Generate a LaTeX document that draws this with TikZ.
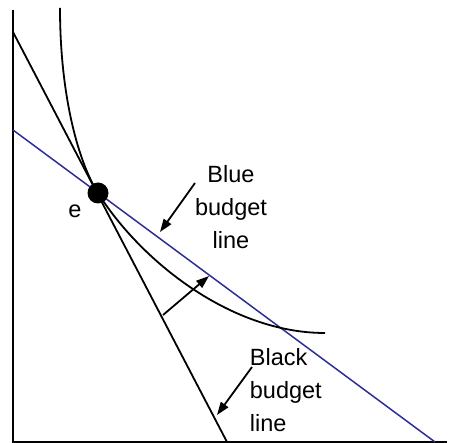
\documentclass[tikz,border=0pt]{standalone}
\usepackage{fontspec}
\setmainfont{Liberation Sans}
\usetikzlibrary{arrows.meta,positioning}
\definecolor{budgetblue}{RGB}{45,45,150}

\begin{document}
\begin{tikzpicture}[x=1pt, y=-1pt, line width=1.8pt, >={Triangle[length=13pt,width=9pt]}, every node/.style={font=\fontsize{23.5}{33}\selectfont, inner sep=0pt}]
\useasboundingbox (0,0) rectangle (468,443);
\coordinate (o) at (13,442);
\coordinate (ytop) at (13,10);
\coordinate (xend) at (447,442);
\coordinate (k1) at (13,32);
\coordinate (k2) at (227,442);
\coordinate (b1) at (13,130);
\coordinate (b2) at (435,442);
\coordinate (ic1) at (60,8);
\coordinate (ic2) at (325,333);
\coordinate (bluetail) at (195,183);
\coordinate (bluetip) at (160,232);
\coordinate (blacktail) at (252,367);
\coordinate (blacktip) at (217,415);
\coordinate (shiftfrom) at (163,315);
\coordinate (shiftto) at (209,276);
\draw (ytop) -- (o) -- (xend);
\draw (k1) -- (k2);
\draw[budgetblue, line width=1.5pt] (b1) -- (b2);
\node (e) [circle, fill, minimum size=21pt] at (98,193) {};
\draw (ic1) .. controls (60,100) and (80,165) .. (e.center) .. controls (140,260) and (230,333) .. (ic2);
\node (elabel) at (75,211) {e};
\node (blue) [align=center] at (231,207) {Blue\\budget\\line};
\node (black) [align=left, anchor=west] at (249,390) {Black\\budget\\line};
\draw[->] (bluetail) -- (bluetip);
\draw[->] (blacktail) -- (blacktip);
\draw[->] (shiftfrom) -- (shiftto);
\end{tikzpicture}
\end{document}
